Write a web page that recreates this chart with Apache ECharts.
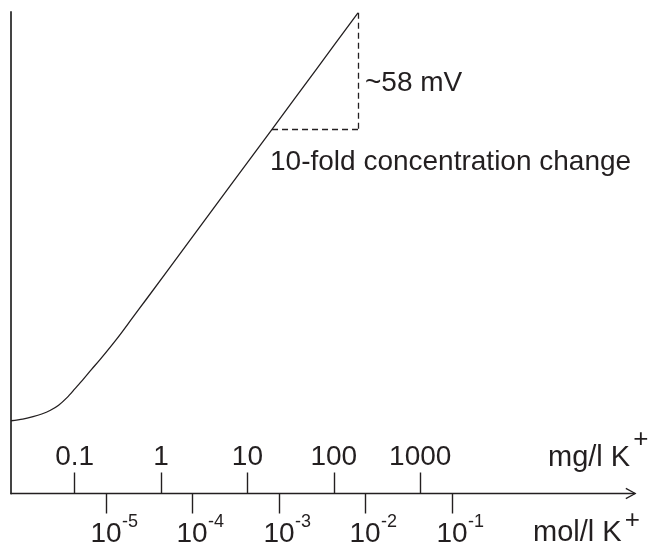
<!DOCTYPE html>
<html><head><meta charset="utf-8">
<script src="https://cdn.jsdelivr.net/npm/echarts@6/dist/echarts.min.js"></script>
<style>html,body{margin:0;padding:0;background:#fff}#c{width:650px;height:546px}</style>
</head><body><div id="c"></div>
<script>
// x: log10 of concentration in mg/l K+ ; y: electrode potential (mV, relative offset)
const curveX = [-1.736, -1.600, -1.481, -1.380, -1.285, -1.185, -1.088, -0.995, -0.903, -0.806, -0.706, -0.509, -0.324, -0.174, 0.300, 0.800, 1.285, 1.800, 2.280];
const curveY = [35.6, 36.4, 37.6, 38.9, 40.6, 43.2, 46.9, 51.3, 55.7, 60.6, 65.5, 75.8, 86.3, 94.8, 121.9, 150.5, 178.2, 207.7, 235.2];
const mgTickPos = [-1, 0, 1, 2, 3];
const mgTickLabels = ['0.1', '1', '10', '100', '1000'];
const molTickPos = [-0.637, 0.359, 1.366, 2.361, 3.368];
const molTickExp = ['-5', '-4', '-3', '-2', '-1'];
const slopeX = [1.285, 2.280];   // one decade (10-fold change)
const slopeY = [178.2, 235.2];   // ~58 mV rise
const xRange = [-1.736, 5.486];
const yRange = [0, 235.6];

const INK = '#231f20';
const FONT = 'Liberation Sans, Arial, Helvetica, sans-serif';
const FS = 28;
const FSU = 29;

function nearestIdx(arr, v) {
  let best = 0, d = Infinity;
  arr.forEach((p, i) => { const dd = Math.abs(p - v); if (dd < d) { d = dd; best = i; } });
  return best;
}

const chevron = 'path://M0,11 L6,0 L12,11 L10.7,11.7 L6,2.6 L1.3,11.7 Z';

const chart = echarts.init(document.getElementById('c'), null, {renderer: 'canvas'});
const gridRect = {left: 11, right: 15, top: 12, bottom: 52.5, containLabel: false, outerBoundsMode: 'none'};

const hiddenY = idx => ({gridIndex: idx, type: 'value', min: yRange[0], max: yRange[1], show: false});

chart.setOption({
  animation: false,
  backgroundColor: '#fff',
  grid: [Object.assign({}, gridRect), Object.assign({}, gridRect), Object.assign({}, gridRect)],
  xAxis: [
    {
      gridIndex: 0, type: 'value', min: xRange[0], max: xRange[1], position: 'bottom',
      axisLine: {show: true, onZero: false, symbol: ['none', chevron], symbolSize: [12, 11], symbolOffset: [0, -4],
        lineStyle: {color: INK, width: 1.4}},
      axisTick: {show: true, inside: true, length: 21, customValues: mgTickPos, lineStyle: {color: INK, width: 1.4}},
      axisLabel: {show: true, inside: true, margin: 22, customValues: mgTickPos,
        formatter: v => mgTickLabels[nearestIdx(mgTickPos, v)],
        fontSize: FS, fontFamily: FONT, color: INK},
      splitLine: {show: false}
    },
    {
      // mol/l scale: ticks below the line and the base "10" of each label
      gridIndex: 1, type: 'value', min: xRange[0], max: xRange[1], position: 'bottom',
      axisLine: {show: false, onZero: false},
      axisTick: {show: true, inside: false, length: 20, customValues: molTickPos, lineStyle: {color: INK, width: 1.4}},
      axisLabel: {show: true, margin: 26.5, customValues: molTickPos,
        formatter: () => '10',
        fontSize: FS, fontFamily: FONT, color: INK},
      splitLine: {show: false}
    },
    {
      // mol/l scale: superscript exponents
      gridIndex: 2, type: 'value', min: xRange[0], max: xRange[1], position: 'bottom',
      axisLine: {show: false, onZero: false},
      axisTick: {show: false},
      axisLabel: {show: true, margin: 19.5, customValues: molTickPos, align: 'left', padding: [0, 0, 0, 16],
        formatter: v => molTickExp[nearestIdx(molTickPos, v)],
        fontSize: 18, fontFamily: FONT, color: INK},
      splitLine: {show: false}
    }
  ],
  yAxis: [
    {
      gridIndex: 0, type: 'value', min: yRange[0], max: yRange[1],
      axisLine: {show: true, onZero: false, lineStyle: {color: '#444', width: 2}},
      axisTick: {show: false}, axisLabel: {show: false}, splitLine: {show: false}
    },
    hiddenY(1),
    hiddenY(2)
  ],
  series: [
    {
      type: 'line', xAxisIndex: 0, yAxisIndex: 0,
      data: curveX.map((x, i) => [x, curveY[i]]),
      showSymbol: false, smooth: 0.3, silent: true,
      lineStyle: {color: INK, width: 1.3},
      markLine: {
        silent: true, symbol: ['none', 'none'], animation: false,
        label: {show: false},
        lineStyle: {color: INK, width: 1.3, type: [6, 4]},
        emphasis: {disabled: true},
        data: [
          [{coord: [slopeX[1], slopeY[1]]}, {coord: [slopeX[1], slopeY[0]]}],
          [{coord: [slopeX[0], slopeY[0]]}, {coord: [slopeX[1], slopeY[0]]}]
        ]
      }
    }
  ],
  graphic: [
    {type: 'text', x: 365, y: 83, silent: true,
      style: {text: '~58 mV', font: FS + 'px ' + FONT, fill: INK, verticalAlign: 'middle', align: 'left'}},
    {type: 'text', x: 270, y: 162, silent: true,
      style: {text: '10-fold concentration change', font: FS + 'px ' + FONT, fill: INK, verticalAlign: 'middle', align: 'left'}},
    {type: 'text', x: 548, y: 457.5, silent: true,
      style: {text: '{a|mg/l K}{b|+}', verticalAlign: 'middle', align: 'left',
        rich: {a: {fontSize: FSU, lineHeight: 29, fontFamily: FONT, fill: INK},
               b: {fontSize: 26, lineHeight: 26, padding: [0, 0, 35, 3], fontFamily: FONT, fill: INK}}}},
    {type: 'text', x: 533, y: 532.5, silent: true,
      style: {text: '{a|mol/l K}{b|+}', verticalAlign: 'middle', align: 'left',
        rich: {a: {fontSize: FSU, lineHeight: 29, fontFamily: FONT, fill: INK},
               b: {fontSize: 26, lineHeight: 26, padding: [0, 0, 23, 3], fontFamily: FONT, fill: INK}}}}
  ]
});
</script>
</body></html>
